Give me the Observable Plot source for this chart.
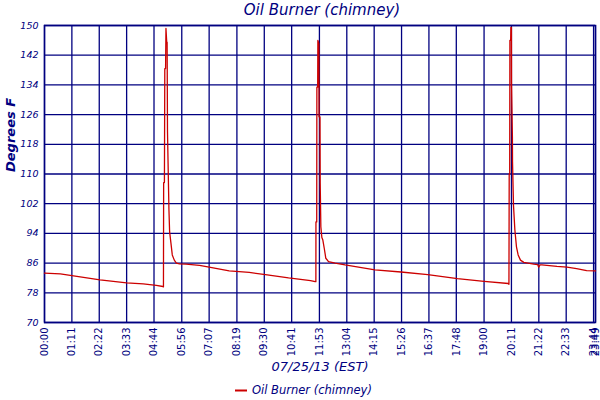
<!DOCTYPE html>
<html><head><meta charset="utf-8">
<script src="https://cdn.jsdelivr.net/npm/d3@7"></script>
<script src="https://cdn.jsdelivr.net/npm/@observablehq/plot@0.6"></script>
<style>body{margin:0;background:#fff} svg{display:block}</style>
</head><body><div id="chart"></div>
<script>
const minutes = [0, 41, 84, 144, 213, 256, 290, 307, 308.5, 309, 311, 312, 314, 315, 317, 318, 319, 322.7, 324.5, 328, 331.4, 336.6, 342, 350, 367, 402, 427, 479, 531, 573, 633, 659, 690, 702, 703.8, 704, 706, 706.4, 708.5, 709, 711.6, 712, 714.5, 715, 716.7, 719.3, 721.9, 725.5, 729.6, 736.6, 753.8, 779.5, 857, 924.5, 994, 1071, 1140, 1203, 1204.5, 1205.2, 1206.5, 1207, 1209, 1209.6, 1211, 1211.2, 1213.5, 1213.8, 1216.3, 1219.9, 1224, 1228.4, 1234.4, 1243.1, 1268.8, 1279, 1281.7, 1285, 1290, 1329, 1355, 1380, 1406, 1429];
const degrees = [83.3, 83.1, 82.4, 81.5, 80.7, 80.4, 80.0, 79.7, 79.6, 107.7, 107.7, 138.4, 138.4, 149.2, 145.5, 145.5, 121.3, 100.5, 94.4, 91.3, 88.2, 86.8, 86.0, 85.8, 85.7, 85.4, 84.9, 83.9, 83.5, 82.9, 82.0, 81.7, 81.3, 81.0, 81.0, 97.1, 97.1, 133.4, 133.4, 146.0, 145.1, 125.4, 125.4, 107.7, 95.8, 92.9, 92.2, 90.0, 87.3, 86.4, 86.0, 85.5, 84.2, 83.6, 82.9, 81.8, 81.1, 80.5, 80.3, 110.0, 110.0, 146.0, 146.0, 149.5, 149.5, 134.6, 120.0, 113.3, 101.6, 94.9, 90.4, 88.2, 86.8, 86.2, 85.7, 85.6, 84.9, 85.5, 85.5, 85.1, 84.9, 84.5, 84.0, 83.9];
const xTickLabels = ["00:00","01:11","02:22","03:33","04:44","05:56","07:07","08:19","09:30","10:41","11:53","13:04","14:15","15:26","16:37","17:48","19:00","20:11","21:22","22:33","23:44","23:49"];
const yTicks = [70, 78, 86, 94, 102, 110, 118, 126, 134, 142, 150];
const titleText = "Oil Burner (chimney)";
const xLabel = "07/25/13 (EST)";
const yLabel = "Degrees F";
const seriesName = "Oil Burner (chimney)";

const navy = "#000080";
const red = "#cc0000";
const font = "DejaVu Sans";
const data = minutes.map((m, i) => ({m, v: degrees[i]}));
const xTicks = xTickLabels.map(s => { const [h, mm] = s.split(":").map(Number); return h * 60 + mm; });
const labelOf = new Map(xTicks.map((t, i) => [t, xTickLabels[i]]));

const chart = Plot.plot({
  width: 600, height: 400,
  marginTop: 25, marginLeft: 44, marginRight: 5, marginBottom: 78,
  style: {fontFamily: font, background: "white"},
  x: {domain: [0, 1429]},
  y: {domain: [70, 150]},
  marks: [
    Plot.gridX(xTicks, {stroke: navy, strokeOpacity: 1, strokeWidth: 1.3}),
    Plot.gridY(yTicks, {stroke: navy, strokeOpacity: 1, strokeWidth: 1.3}),
    Plot.frame({stroke: navy, strokeWidth: 1.5}),
    Plot.lineY(data, {x: "m", y: "v", stroke: red, strokeWidth: 1.3}),
    Plot.axisX(xTicks, {tickSize: 0, tickRotate: -90, tickPadding: 5, tickFormat: d => labelOf.get(d), fill: navy, fontSize: 10, label: null}),
    Plot.axisY(yTicks, {tickSize: 0, tickPadding: 6, fill: navy, fontSize: 9.5, fontStyle: "italic", label: null}),
    Plot.text([titleText], {frameAnchor: "top", dy: -15, dx: 2, lineAnchor: "middle", fill: navy, fontSize: 15, fontStyle: "italic", fontFamily: font}),
    Plot.text([xLabel], {frameAnchor: "bottom", dy: 44, dx: 0, lineAnchor: "middle", fill: navy, fontSize: 13, fontStyle: "italic", fontFamily: font}),
    Plot.text([yLabel], {frameAnchor: "left", dx: -34, dy: -2, rotate: -90, lineAnchor: "middle", fill: navy, fontSize: 13, fontStyle: "italic", fontWeight: "bold", fontFamily: font}),
    Plot.text([seriesName], {frameAnchor: "bottom", dy: 68, dx: -68, textAnchor: "start", lineAnchor: "middle", fill: navy, fontSize: 11.5, fontStyle: "italic", fontFamily: font})
  ]
});
d3.select(chart).append("line")
  .attr("x1", 235).attr("x2", 247).attr("y1", 390.5).attr("y2", 390.5)
  .attr("stroke", red).attr("stroke-width", 2);
document.getElementById("chart").appendChild(chart);
</script>
</body></html>
